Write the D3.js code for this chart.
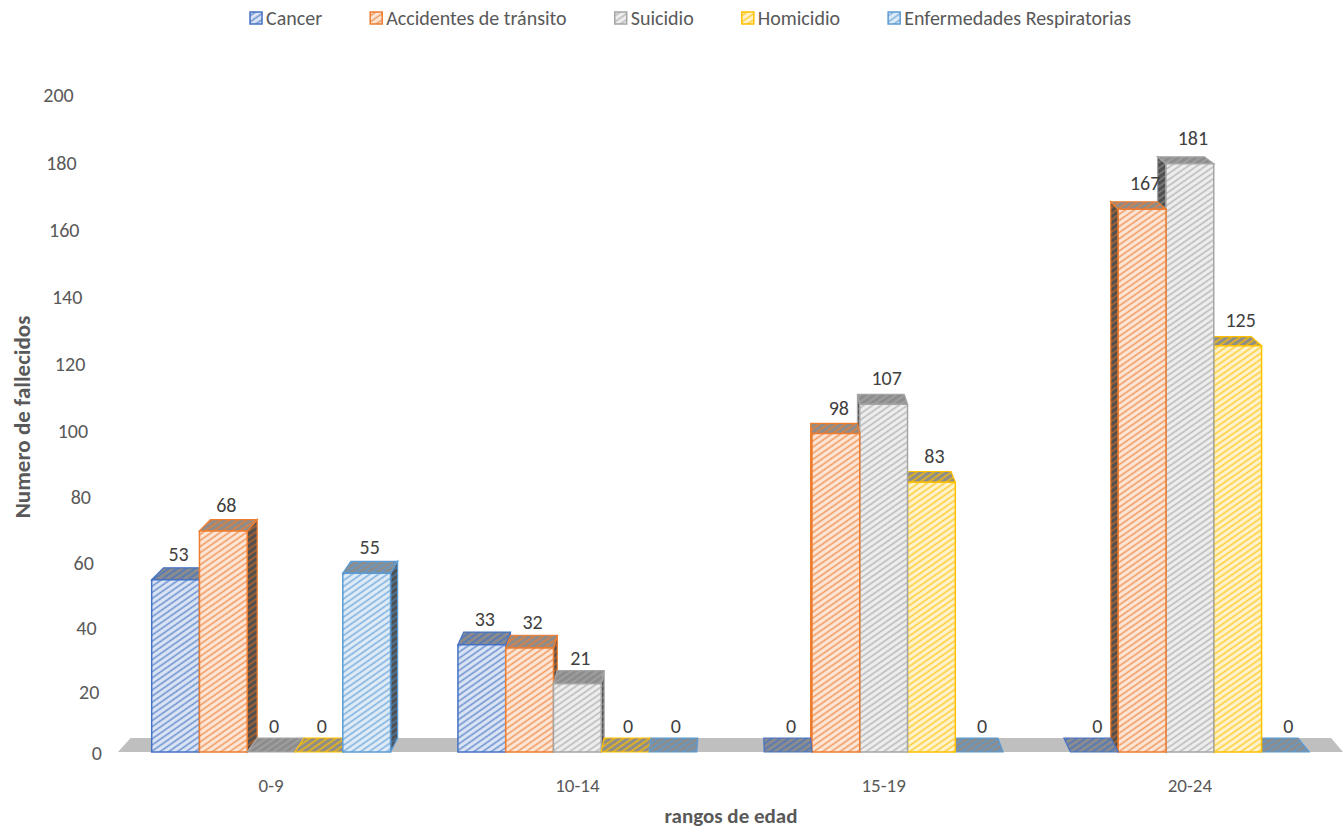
<!DOCTYPE html>
<html>
<head>
<meta charset="utf-8">
<script src="https://cdn.jsdelivr.net/npm/d3@7"></script>
<style>
  body { margin: 0; background: #fff; }
  svg { font-family: Carlito, Lato, "Open Sans", sans-serif; }
</style>
</head>
<body>
<svg id="chart" width="1344" height="836"></svg>
<script>
const categories = ["0-9", "10-14", "15-19", "20-24"];
const seriesNames = ["Cancer", "Accidentes de tránsito", "Suicidio", "Homicidio", "Enfermedades Respiratorias"];
const cancer = [53, 33, 0, 0];
const accidentes = [68, 32, 98, 167];
const suicidio = [0, 21, 107, 181];
const homicidio = [0, 0, 83, 125];
const respiratorias = [55, 0, 0, 0];
const yTicks = [0, 20, 40, 60, 80, 100, 120, 140, 160, 180, 200];

const seriesValues = [cancer, accidentes, suicidio, homicidio, respiratorias];
const colors = ["#4472C4", "#ED7D31", "#A5A5A5", "#FFC000", "#5B9BD5"];

const width = 1344, height = 836;
const svg = d3.select("#chart");
const defs = svg.append("defs");

// hatch fills: light front, darker top / side
const makePattern = (id, bg, line, lineOpacity) => {
  const p = defs
    .append("pattern")
    .attr("id", id)
    .attr("patternUnits", "userSpaceOnUse")
    .attr("width", 5)
    .attr("height", 5)
    .attr("patternTransform", "rotate(-35)");
  p.append("rect").attr("width", 5).attr("height", 5).attr("fill", bg);
  p.append("line")
    .attr("x1", 0).attr("y1", 2.5).attr("x2", 5).attr("y2", 2.5)
    .attr("stroke", line)
    .attr("stroke-width", 1.6)
    .attr("stroke-opacity", lineOpacity);
};

colors.forEach((c, i) => {
  const tint = d3.interpolateRgb(c, "#ffffff")(0.82);
  makePattern("front" + i, tint, c, 0.75);
  makePattern("top" + i, "#8c8c8c", c, 0.9);
  makePattern("side" + i, "#4f4f4f", d3.color(c).darker(0.6), 0.9);
});

// scales
const x0 = d3.scaleBand()
  .domain(categories)
  .range([118, 1343])
  .paddingInner(0.22)
  .paddingOuter(0.11);

const x1 = d3.scaleBand()
  .domain(seriesNames)
  .range([0, x0.bandwidth()]);

// back wall labels spread slightly wider toward the top (perspective)
const yAxisScale = d3.scalePow().exponent(1.03).domain([0, 200]).range([753, 95]);
const y = d3.scaleLinear().domain([0, 200]).range([752, 102]);

// simple perspective: points recede toward a vanishing point
const vx = 745, vy = -415, kx = 0.02, ky = 0.012;
const back = (px, py) => [px + (vx - px) * kx, py + (vy - py) * ky];
const poly = (pts) => "M" + pts.map((p) => p.join(",")).join("L") + "Z";

// floor
const fl = x0.range()[0], fr = x0.range()[1], fy = y(0);
svg.append("path")
  .attr("d", poly([[fl, fy], [fr, fy], back(fr, fy), back(fl, fy)]))
  .attr("fill", "#BFBFBF");

// y axis tick labels, the axis leans back to the left
svg.append("g")
  .selectAll("text")
  .data(yTicks)
  .join("text")
  .attr("x", (d) => 102 - (753 - yAxisScale(d)) * 0.043)
  .attr("y", (d) => yAxisScale(d) + 7)
  .attr("text-anchor", "end")
  .attr("font-size", 20)
  .attr("fill", "#595959")
  .text((d) => d);

// category labels
svg.append("g")
  .selectAll("text")
  .data(categories)
  .join("text")
  .attr("x", (d) => x0(d) + x0.bandwidth() / 2)
  .attr("y", 792)
  .attr("text-anchor", "middle")
  .attr("font-size", 19)
  .attr("fill", "#595959")
  .text((d) => d);

// bars
const bars = [];
categories.forEach((cat, ci) => {
  seriesNames.forEach((s, si) => {
    const xl = x0(cat) + x1(s);
    const xr = xl + x1.bandwidth();
    bars.push({ ci, si, xl, xr, value: seriesValues[si][ci] });
  });
});
// draw from the outside toward the centre so nearer faces overlap
bars.sort((a, b) => Math.abs(b.xl + b.xr - 2 * vx) - Math.abs(a.xl + a.xr - 2 * vx));

const barG = svg.append("g");
bars.forEach((b) => {
  const yt = y(b.value), yb = y(0);
  const c = colors[b.si];
  const g = barG.append("g");
  if (b.value > 0) {
    const sx = (b.xl + b.xr) / 2 < vx ? b.xr : b.xl;
    g.append("path")
      .attr("d", poly([[sx, yt], back(sx, yt), back(sx, yb), [sx, yb]]))
      .attr("fill", "url(#side" + b.si + ")")
      .attr("stroke", c)
      .attr("stroke-width", 1.2);
  }
  g.append("path")
    .attr("d", poly([[b.xl, yt], [b.xr, yt], back(b.xr, yt), back(b.xl, yt)]))
    .attr("fill", "url(#top" + b.si + ")")
    .attr("stroke", c)
    .attr("stroke-width", 1.2);
  if (b.value > 0) {
    g.append("rect")
      .attr("x", b.xl)
      .attr("y", yt)
      .attr("width", b.xr - b.xl)
      .attr("height", yb - yt)
      .attr("fill", "url(#front" + b.si + ")")
      .attr("stroke", c)
      .attr("stroke-width", 1.5);
  }
});

// value labels
svg.append("g")
  .selectAll("text")
  .data(bars)
  .join("text")
  .attr("x", (d) => (d.xl + d.xr) / 2 + 3)
  .attr("y", (d) => y(d.value) - 19)
  .attr("text-anchor", "middle")
  .attr("font-size", 20)
  .attr("fill", "#404040")
  .text((d) => d.value);

// axis titles
svg.append("text")
  .attr("transform", "translate(30,417) rotate(-90)")
  .attr("text-anchor", "middle")
  .attr("font-size", 23)
  .attr("font-weight", "bold")
  .attr("fill", "#595959")
  .text("Numero de fallecidos");

svg.append("text")
  .attr("x", 731)
  .attr("y", 823)
  .attr("text-anchor", "middle")
  .attr("font-size", 21)
  .attr("font-weight", "bold")
  .attr("fill", "#595959")
  .text("rangos de edad");

// legend, spread over the same span as the reference
const legend = svg.append("g").attr("transform", "translate(250,25)");
const items = seriesNames.map((s, i) => {
  const item = legend.append("g");
  item.append("rect")
    .attr("x", 0).attr("y", -13)
    .attr("width", 12).attr("height", 12)
    .attr("fill", "url(#front" + i + ")")
    .attr("stroke", colors[i])
    .attr("stroke-width", 1.5);
  const t = item.append("text")
    .attr("x", 16)
    .attr("y", 0)
    .attr("font-size", 20)
    .attr("fill", "#595959")
    .text(s);
  return { item, w: 16 + t.node().getComputedTextLength() };
});
const totalW = d3.sum(items, (d) => d.w);
const gap = (881 - totalW) / (items.length - 1);
let lx = 0;
items.forEach((d) => {
  d.item.attr("transform", `translate(${lx},0)`);
  lx += d.w + gap;
});
</script>
</body>
</html>
